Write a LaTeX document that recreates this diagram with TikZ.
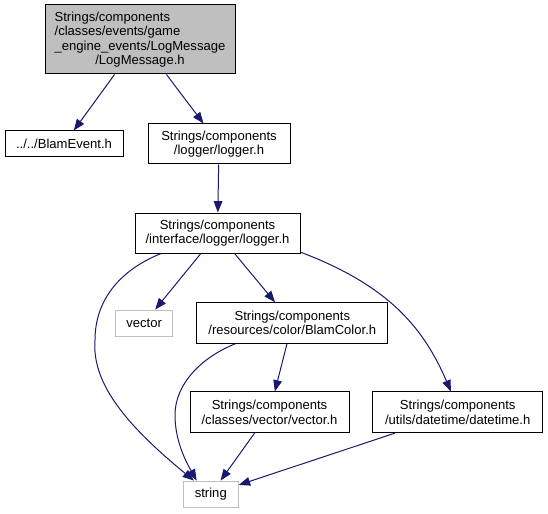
\documentclass[tikz,border=0pt]{standalone}
\usepackage{fontspec}
\usepackage{calc}
\setmainfont{Liberation Sans}
\usetikzlibrary{arrows.meta}
\definecolor{edgecol}{HTML}{191970}
\definecolor{graybox}{HTML}{BFBFBF}
\begin{document}
\begin{tikzpicture}[x=0.75pt,y=-0.75pt,
  box/.style={draw=black,line width=0.75pt,rectangle,inner sep=0pt,
    font=\fontsize{9.8}{10.9}\selectfont,align=center},
  gbox/.style={box,draw=graybox},
  edge/.style={draw=edgecol,line width=0.75pt,
    -{Triangle[length=8.5pt,width=6.5pt]}}]
\useasboundingbox (0,0) rectangle (548,513);
\node[box,fill=graybox,minimum width=142.5pt,minimum height=51.75pt,align=left] (top) at (140,39.5)
  {Strings/components\\/classes/events/game\\\_engine\_events/LogMessage\\\makebox[\widthof{\_engine\_events/LogMessage}][c]{/LogMessage.h}};
\node[box,minimum width=88.5pt,minimum height=19.5pt] (blam) at (64,144) {../../BlamEvent.h};
\node[box,minimum width=106.5pt,minimum height=30pt] (log) at (219,144) {Strings/components\\/logger/logger.h};
\node[box,minimum width=123.75pt,minimum height=30pt] (ilog) at (217.5,233) {Strings/components\\/interface/logger/logger.h};
\node[gbox,minimum width=42.4pt,minimum height=19.5pt] (vec) at (144.2,323) {vector};
\node[box,minimum width=143.5pt,minimum height=30.4pt] (bc) at (292.3,323) {Strings/components\\/resources/color/BlamColor.h};
\node[box,minimum width=119.25pt,minimum height=30.5pt] (vh) at (269.5,412.3) {Strings/components\\/classes/vector/vector.h};
\node[box,minimum width=127.5pt,minimum height=30.5pt] (dt) at (457.7,412.3) {Strings/components\\/utils/datetime/datetime.h};
\node[gbox,minimum width=41.25pt,minimum height=19.7pt] (str) at (210.8,494.2) {string};

\draw[edge] (top) -- (blam);
\draw[edge] (top) -- (log);
\draw[edge] (log) -- (ilog);
\draw[edge] (ilog) -- (vec);
\draw[edge] (ilog) -- (bc);
\draw[edge] (ilog.-13) .. controls (390,286) and (424,329) .. (dt.108);
\draw[edge] (ilog.200.7) .. controls (120,270) and (95,300) .. (95,340) .. controls (92,380) and (120,420) .. (str.141.8);
\draw[edge] (bc.200.2) .. controls (200,358) and (175,385) .. (175,415) .. controls (175,440) and (185,460) .. (str.136);
\draw[edge] (bc) -- (vh);
\draw[edge] (vh) -- (str);
\draw[edge] (dt) -- (str);
\end{tikzpicture}
\end{document}
